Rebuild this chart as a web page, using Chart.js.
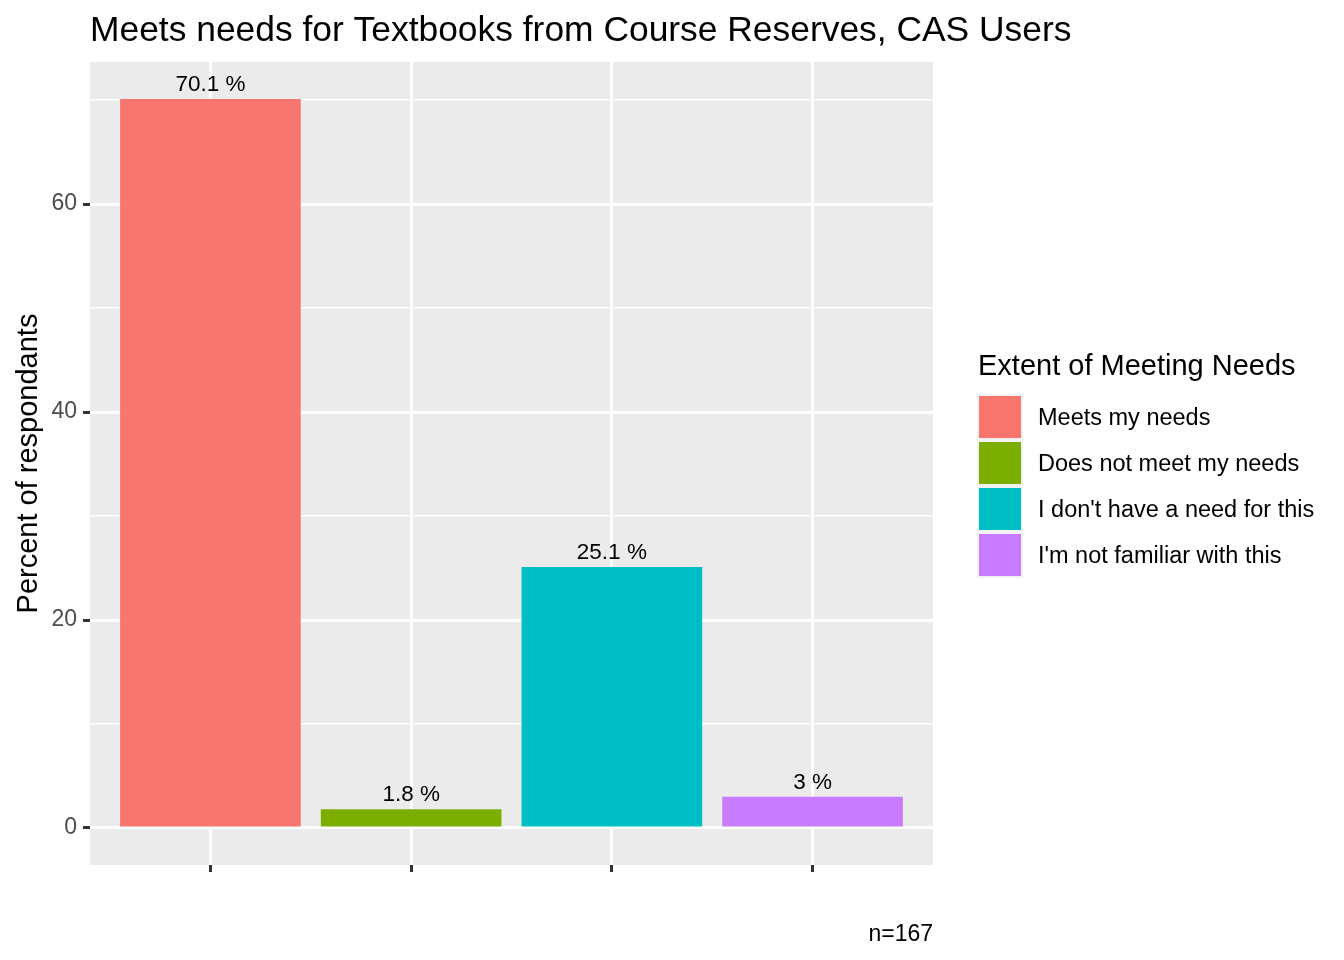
<!DOCTYPE html>
<html>
<head>
<meta charset="utf-8">
<script src="https://cdn.jsdelivr.net/npm/chart.js@4"></script>
<style>
html,body{margin:0;padding:0;background:#fff;}
#wrap{width:1344px;height:960px;position:relative;}
canvas{display:block;}
</style>
</head>
<body>
<div id="wrap"><canvas id="c" width="1344" height="960"></canvas></div>
<script>
// ---- data ----
const categories = ["Meets my needs", "Does not meet my needs", "I don't have a need for this", "I'm not familiar with this"];
const percentValues = [70.1, 1.8, 25.1, 3.0];
const valueLabels = ["70.1 %", "1.8 %", "25.1 %", "3 %"];
const barColors = ["#F8766D", "#7CAE00", "#00BFC4", "#C77CFF"];
const yTickValues = [0, 10, 20, 30, 40, 50, 60, 70];
const xPositions = [1, 2, 3, 4];
const chartTitle = "Meets needs for Textbooks from Course Reserves, CAS Users";
const yAxisTitle = "Percent of respondants";
const legendTitle = "Extent of Meeting Needs";
const caption = "n=167";

const FONT = "'Liberation Sans', Arial, Helvetica, sans-serif";

const decor = {
  id: 'decor',
  beforeDraw(chart) {
    const {ctx, chartArea: a} = chart;
    ctx.save();
    ctx.fillStyle = '#EBEBEB';
    ctx.fillRect(a.left, a.top, a.right - a.left, a.bottom - a.top);
    ctx.restore();
  },
  afterDatasetsDraw(chart) {
    const ctx = chart.ctx;
    const meta = chart.getDatasetMeta(0);
    ctx.save();
    ctx.fillStyle = '#000';
    ctx.font = '22.5px ' + FONT;
    ctx.textAlign = 'center';
    ctx.textBaseline = 'alphabetic';
    meta.data.forEach((el, i) => {
      ctx.fillText(valueLabels[i], el.x, el.y - 8);
    });
    ctx.restore();
  },
  afterDraw(chart) {
    const {ctx, chartArea: a} = chart;
    ctx.save();
    // title
    ctx.fillStyle = '#000';
    ctx.font = '35.4px ' + FONT;
    ctx.textAlign = 'left';
    ctx.textBaseline = 'alphabetic';
    ctx.fillText(chartTitle, a.left, 41);
    // y axis title
    ctx.save();
    ctx.translate(37, (a.top + a.bottom) / 2);
    ctx.rotate(-Math.PI / 2);
    ctx.font = '29px ' + FONT;
    ctx.textAlign = 'center';
    ctx.fillText(yAxisTitle, 0, 0);
    ctx.restore();
    // caption
    ctx.font = '23px ' + FONT;
    ctx.textAlign = 'right';
    ctx.fillText(caption, a.right, 941);
    // legend
    const lx = 977, ly = 394, pitch = 46;
    ctx.textAlign = 'left';
    ctx.font = '29px ' + FONT;
    ctx.fillText(legendTitle, 978, 375);
    ctx.fillStyle = '#F2F2F2';
    ctx.fillRect(lx, ly, 46, pitch * categories.length);
    ctx.font = '23.5px ' + FONT;
    ctx.textBaseline = 'middle';
    categories.forEach((c, i) => {
      ctx.fillStyle = barColors[i];
      ctx.fillRect(lx + 2, ly + 2 + i * pitch, 42, 42);
      ctx.fillStyle = '#000';
      ctx.fillText(c, 1038, ly + 25 + i * pitch);
    });
    ctx.restore();
  }
};

new Chart(document.getElementById('c'), {
  type: 'bar',
  data: {
    datasets: [{
      data: xPositions.map((x, i) => ({x: x, y: percentValues[i]})),
      backgroundColor: barColors,
      borderWidth: 0,
      barPercentage: 0.9,
      categoryPercentage: 1.0,
      grouped: false
    }]
  },
  options: {
    responsive: false,
    devicePixelRatio: 1,
    animation: false,
    layout: { padding: { left: 0, top: 62, right: 411, bottom: 95 } },
    plugins: { legend: { display: false }, tooltip: { enabled: false }, title: { display: false } },
    scales: {
      x: {
        type: 'linear',
        min: 0.4,
        max: 4.6,
        offset: false,
        afterBuildTicks(scale) { scale.ticks = xPositions.map(v => ({value: v})); },
        afterFit(scale) { scale.height = 0; },
        border: { display: false },
        grid: {
          offset: false,
          color: '#FFFFFF',
          lineWidth: 3,
          drawTicks: true,
          tickLength: 7,
          tickColor: '#333333',
          tickWidth: 3
        },
        ticks: { display: false }
      },
      y: {
        type: 'linear',
        min: -3.56,
        max: 73.66,
        afterBuildTicks(scale) { scale.ticks = yTickValues.map(v => ({value: v})); },
        afterFit(scale) { scale.width = 90; },
        border: { display: false },
        grid: {
          color: '#FFFFFF',
          lineWidth: (c) => (c.tick && c.tick.value % 20 === 0) ? 3 : 1.5,
          drawTicks: true,
          tickLength: 7,
          tickColor: (c) => (c.tick && c.tick.value % 20 === 0) ? '#333333' : 'rgba(0,0,0,0)',
          tickWidth: 3
        },
        ticks: {
          color: '#4D4D4D',
          font: { family: FONT, size: 23 },
          padding: 6,
          autoSkip: false,
          callback: (v) => (v % 20 === 0) ? String(v) : ''
        }
      }
    }
  },
  plugins: [decor]
});
</script>
</body>
</html>
